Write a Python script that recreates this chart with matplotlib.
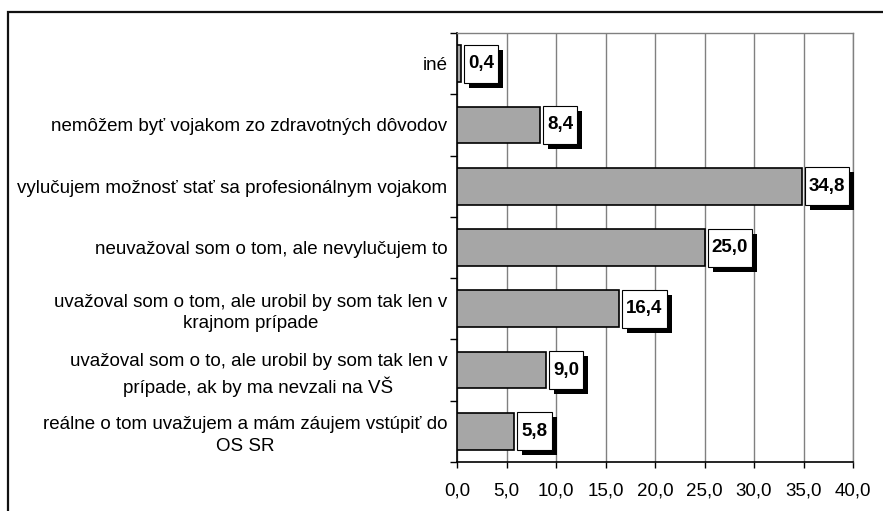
import matplotlib

matplotlib.use("Agg")
import matplotlib.pyplot as plt
from matplotlib.patches import Rectangle
from matplotlib.ticker import FixedLocator, FuncFormatter, MultipleLocator
from matplotlib.transforms import IdentityTransform

plt.rcParams["font.family"] = ["Liberation Sans", "DejaVu Sans"]

CATEGORIES = [
    "iné",
    "nemôžem byť vojakom zo zdravotných dôvodov",
    "vylučujem možnosť stať sa profesionálnym vojakom",
    "neuvažoval som o tom, ale nevylučujem to",
    "uvažoval som o tom, ale urobil by som tak len v\nkrajnom prípade",
    "uvažoval som o to, ale urobil by som tak len v\nprípade, ak by ma nevzali na VŠ",
    "reálne o tom uvažujem a mám záujem vstúpiť do\nOS SR",
]
VALUES = [0.4, 8.4, 34.8, 25.0, 16.4, 9.0, 5.8]

X_MAX = 40.0
FS = 13.5


def comma(v, _pos=None):
    return f"{v:.1f}".replace(".", ",")


W, H = 883, 511
fig = plt.figure(figsize=(W / 100, H / 100), dpi=100)
fig.patch.set_facecolor("white")

# outer frame, running off the right and bottom edges
fig.add_artist(Rectangle((8 / W, -0.2), 1.5, 1.2 - 12 / H, transform=fig.transFigure,
                         fill=False, edgecolor="#111111", linewidth=1.6))

ax = fig.add_axes([457 / W, 1 - 462 / H, (853 - 457) / W, (462 - 33) / H])

ypos = list(range(len(CATEGORIES)))
ax.barh(ypos, VALUES, height=0.6, color="#a6a6a6", edgecolor="black", linewidth=1.2, zorder=3)

ax.set_xlim(0, X_MAX)
ax.set_ylim(len(CATEGORIES) - 0.5, -0.5)

ax.xaxis.set_major_locator(MultipleLocator(5))
ax.xaxis.set_major_formatter(FuncFormatter(comma))
ax.grid(axis="x", color="#808080", linewidth=1.0, zorder=0)
ax.tick_params(axis="x", direction="out", length=4, width=1, pad=11, labelsize=FS, colors="black")

ax.set_yticks(ypos)
ax.set_yticklabels(CATEGORIES, fontsize=FS)
for lbl in ax.get_yticklabels():
    lbl.set_multialignment("center")
    lbl.set_linespacing(1.35)
ax.yaxis.set_minor_locator(FixedLocator([i - 0.5 for i in range(len(CATEGORIES) + 1)]))
ax.tick_params(axis="y", which="major", length=0, pad=7)
ax.tick_params(axis="y", which="minor", direction="out", length=5, width=1, color="black")

for side in ("top", "right"):
    ax.spines[side].set_color("#808080")
    ax.spines[side].set_linewidth(1.0)
for side in ("left", "bottom"):
    ax.spines[side].set_color("black")
    ax.spines[side].set_linewidth(1.2)

# value labels: white box with a hard black drop shadow
texts = []
for y, v in zip(ypos, VALUES):
    t = ax.annotate(comma(v), xy=(v, y), xytext=(7, 0), textcoords="offset pixels",
                    ha="left", va="center", fontsize=FS, fontweight="bold", zorder=7,
                    annotation_clip=False)
    texts.append((t, y, v))

fig.canvas.draw()
renderer = fig.canvas.get_renderer()
for t, y, v in texts:
    bb = t.get_window_extent(renderer)
    cy = ax.transData.transform((v, y))[1]
    x0, x1 = bb.x0 - 4, bb.x1 + 4
    h = 38
    shadow = Rectangle((x0 + 5, cy - h / 2 - 5), x1 - x0, h, transform=IdentityTransform(),
                       facecolor="black", edgecolor="black", linewidth=0, zorder=5, clip_on=False)
    box = Rectangle((x0, cy - h / 2), x1 - x0, h, transform=IdentityTransform(),
                    facecolor="white", edgecolor="black", linewidth=0.8, zorder=6, clip_on=False)
    ax.add_patch(shadow)
    ax.add_patch(box)

fig.savefig("out.png", dpi=100)
